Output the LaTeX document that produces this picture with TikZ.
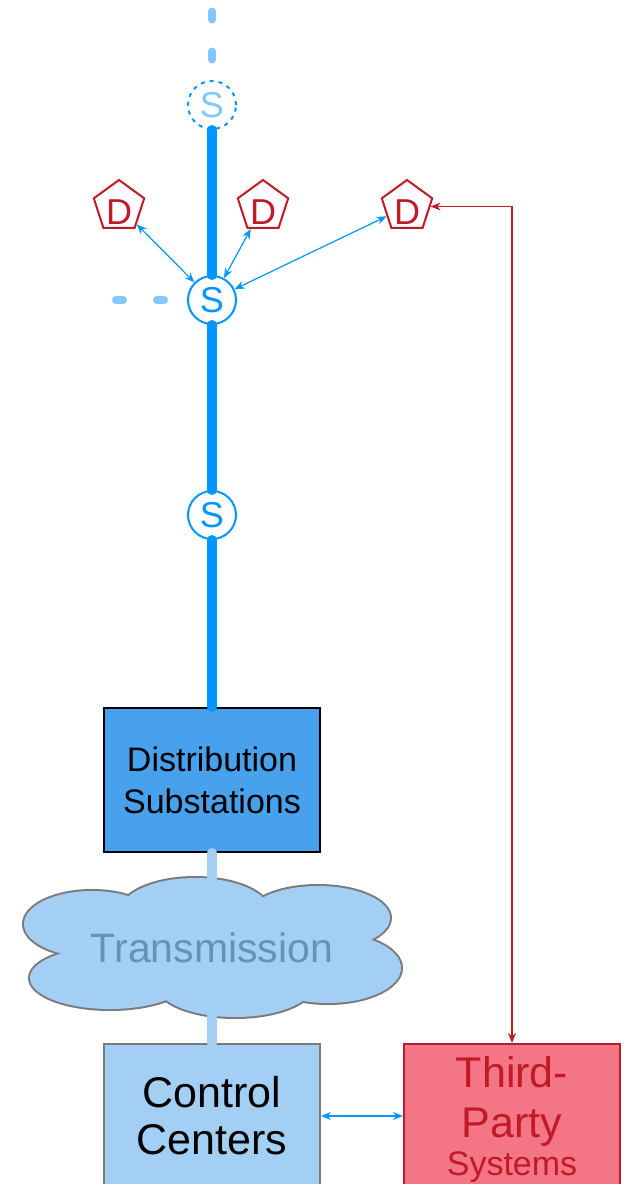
\documentclass[tikz,border=0pt]{standalone}
\usepackage{fontspec}
\setmainfont{Liberation Sans}
\usetikzlibrary{shapes.geometric,arrows.meta}
\definecolor{sblue}{RGB}{0,150,255}
\definecolor{lblue}{RGB}{128,200,255}
\definecolor{distfill}{RGB}{71,161,237}
\definecolor{cfill}{RGB}{163,207,245}
\definecolor{cgray}{RGB}{122,122,122}
\definecolor{ttext}{RGB}{102,144,186}
\definecolor{dred}{RGB}{192,26,38}
\definecolor{tpfill}{RGB}{244,117,134}
\begin{document}
\begin{tikzpicture}[x=1pt,y=1pt,
  sbox/.style={circle,draw=sblue,line width=2pt,fill=white,minimum size=48pt,inner sep=0pt,text=sblue,font=\fontsize{36}{40}\selectfont},
  sdot/.style={sbox,dash pattern=on 4pt off 5pt,text=lblue},
  dpent/.style={regular polygon,regular polygon sides=5,draw=dred,line width=2pt,fill=white,minimum size=53pt,inner sep=0pt},
  dlab/.style={text=dred,inner sep=0pt,font=\fontsize{36}{40}\selectfont},
  bx/.style={rectangle,line width=2pt,minimum width=216pt,minimum height=144pt,inner sep=0pt,align=center},
  trunk/.style={draw=sblue,line width=10pt,line cap=round},
  ltrunk/.style={draw=cfill,line width=10pt,line cap=round},
  stub/.style={draw=lblue,line width=8pt,line cap=round},
  puffline/.style={draw=cgray,line width=4pt},
  pufffill/.style={fill=cfill},
  barrow/.style={draw=sblue,line width=1.2pt,{Stealth[length=10pt,width=8pt]}-{Stealth[length=10pt,width=8pt]}},
  rarrow/.style={draw=dred,line width=1.2pt,{Stealth[length=10pt,width=8pt]}-{Stealth[length=10pt,width=8pt]}}
]
\useasboundingbox (0,0) rectangle (632,-1184);
\clip (0,0) rectangle (632,-1184);

% cloud: union of puffs, outlined
\foreach \cx/\cy/\rx/\ry in {92/924/68/33, 195/912/75/34, 318/918/72/32, 328/968/73/35, 235/985/78/32, 110/978/80/31}
  \path[puffline] (\cx,-\cy) ellipse [x radius=\rx, y radius=\ry];
\foreach \cx/\cy/\rx/\ry in {92/924/68/33, 195/912/75/34, 318/918/72/32, 328/968/73/35, 235/985/78/32, 110/978/80/31, 212/948/150/45}
  \path[pufffill] (\cx,-\cy) ellipse [x radius=\rx, y radius=\ry];
\node[text=ttext,font=\fontsize{41}{46}\selectfont,inner sep=0pt] (tr) at (212,-948) {Transmission};
\coordinate (cltop) at (212,-882);
\coordinate (clbot) at (212,-1012);

% boxes
\node[bx,draw=black,fill=distfill,font=\fontsize{34}{42}\selectfont] (ds) at (212,-780) {Distribution\\Substations};
\node[bx,draw=cgray,fill=cfill,font=\fontsize{43}{47}\selectfont] (cc) at (212,-1116) {Control\\Centers};
\node[bx,draw=dred,fill=tpfill,text=dred,font=\fontsize{43}{50}\selectfont] (tp) at (512,-1116) {};
\node[text=dred,align=center,inner sep=0pt,font=\fontsize{43}{50}\selectfont] (tpt) at ([yshift=-3pt]tp.center) {Third-\\Party\\[-12pt]{\fontsize{34}{38}\selectfont Systems}};

% S nodes
\node[sdot] (s1) at (212,-105) {S};
\node[sbox] (s2) at (212,-300) {S};
\node[sbox] (s3) at (212,-515) {S};

% trunk lines
\draw[trunk] (s1) -- (s2);
\draw[trunk] (s2) -- (s3);
\draw[trunk] (s3) -- (ds);
\draw[ltrunk] (ds) -- (cltop);
\draw[ltrunk] (clbot) -- (cc);

% stubs
\coordinate (ta) at (212,-59.5);
\coordinate (tb) at (212,-11.5);
\draw[stub,dash pattern=on 8pt off 32pt] (ta) -- (tb);
\coordinate (la) at (116,-300);
\coordinate (lb) at (164,-300);
\draw[stub,dash pattern=on 7pt off 34pt] (la) -- (lb);

% D nodes
\node[dpent] (d1) at (119,-206.5) {};
\node[dpent] (d2) at (263,-206.5) {};
\node[dpent] (d3) at (407,-206.5) {};
\node[dlab] (d1l) at ([yshift=-6pt]d1.center) {D};
\node[dlab] (d2l) at ([yshift=-6pt]d2.center) {D};
\node[dlab] (d3l) at ([yshift=-6pt]d3.center) {D};

% arrows
\draw[barrow] (d1) -- (s2);
\draw[barrow] (d2) -- (s2);
\draw[barrow] (d3) -- (s2);
\draw[barrow] (cc) -- (tp);
\draw[rarrow] (tp) |- (d3);
\end{tikzpicture}
\end{document}
